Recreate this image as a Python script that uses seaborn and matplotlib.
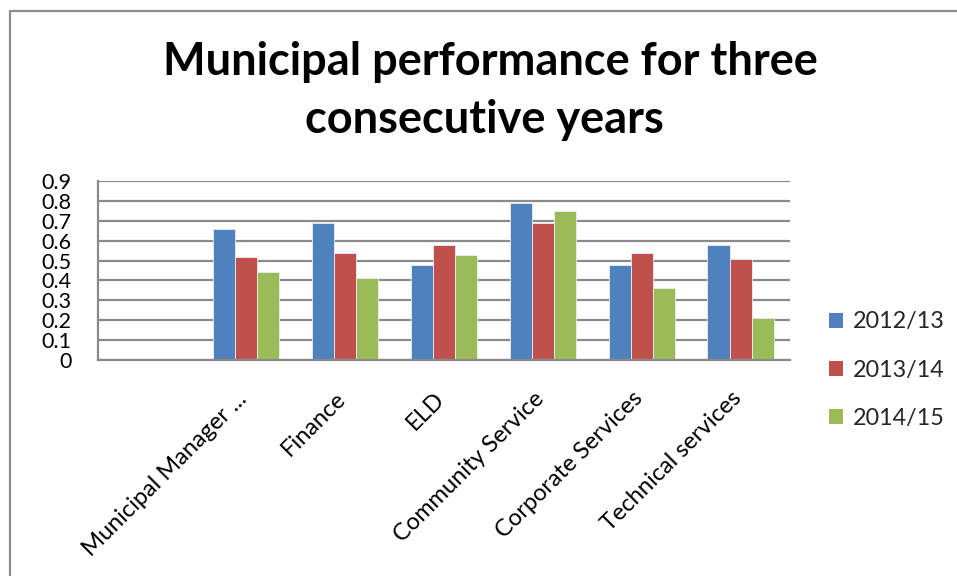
import matplotlib
matplotlib.use("Agg")
import matplotlib.pyplot as plt
import seaborn as sns
import pandas as pd
from matplotlib.lines import Line2D
from matplotlib.patches import Patch
from matplotlib.transforms import ScaledTranslation

# Department scores per financial year
departments = ["Municipal Manager ...", "Finance", "ELD", "Community Service",
               "Corporate Services", "Technical services"]
years = ["2012/13", "2013/14", "2014/15"]
score_2012_13 = [0.66, 0.69, 0.48, 0.79, 0.48, 0.58]
score_2013_14 = [0.52, 0.54, 0.58, 0.69, 0.54, 0.51]
score_2014_15 = [0.44, 0.41, 0.53, 0.75, 0.36, 0.21]
y_ticks = [0, 0.1, 0.2, 0.3, 0.4, 0.5, 0.6, 0.7, 0.8, 0.9]
y_tick_labels = ["0", "0.1", "0.2", "0.3", "0.4", "0.5", "0.6", "0.7", "0.8", "0.9"]
colors = ["#4F81BD", "#C0504D", "#9BBB59"]

rows = []
for year, vals in zip(years, [score_2012_13, score_2013_14, score_2014_15]):
    for dep, v in zip(departments, vals):
        rows.append({"Department": dep, "Year": year, "Score": v})
df = pd.DataFrame(rows)

sns.set_theme(style="white")
plt.rcParams["font.family"] = ["Lato", "DejaVu Sans"]

fig = plt.figure(figsize=(9.57, 5.76), dpi=100)
ax = fig.add_axes([98 / 957, 1 - 360 / 576, (790 - 98) / 957, (360 - 181) / 576])

# leading blank slot on the category axis
order = [""] + departments
sns.barplot(data=df, x="Department", y="Score", hue="Year", order=order,
            hue_order=years, palette=colors, saturation=1, width=0.67, ax=ax,
            edgecolor="#e8eef6", linewidth=0.6, legend=False, errorbar=None)

ax.set_xlim(-0.5, len(order) - 0.5)
ax.set_ylim(0, 0.9)
ax.set_yticks(y_ticks)
ax.set_yticklabels(y_tick_labels)
ax.set_xlabel("")
ax.set_ylabel("")
ax.yaxis.grid(True, color="#8a8a8a", linewidth=1.6)
ax.set_axisbelow(True)
for side in ["top", "right"]:
    ax.spines[side].set_visible(False)
for side in ["left", "bottom"]:
    ax.spines[side].set_color("#8a8a8a")
    ax.spines[side].set_linewidth(1.6)

ax.tick_params(axis="y", length=0, pad=19, labelsize=15.5, labelcolor="black")
ax.tick_params(axis="x", length=0, pad=20, labelsize=17, labelcolor="black")
shift = ScaledTranslation(-10 / 100, 0, fig.dpi_scale_trans)
for lbl in ax.get_xticklabels():
    lbl.set_rotation(45)
    lbl.set_ha("right")
    lbl.set_va("top")
    lbl.set_rotation_mode("anchor")
    lbl.set_transform(lbl.get_transform() + shift)

# Title
fig.text(490 / 957, 1 - 62 / 576, "Municipal performance for three",
         ha="center", va="center", fontsize=32.5, fontweight="bold", color="black")
fig.text(484 / 957, 1 - 120 / 576, "consecutive years",
         ha="center", va="center", fontsize=32.5, fontweight="bold", color="black")

# Legend
handles = [Patch(facecolor=c, edgecolor="none") for c in colors]
fig.legend(handles, years, loc="upper left", bbox_to_anchor=(820 / 957, 1 - 302 / 576),
           frameon=False, fontsize=16.8, labelspacing=1.17, handlelength=0.6,
           handleheight=0.6, handletextpad=0.4, borderaxespad=0)

# Chart frame
frame_color = "#8c8c8c"
fig.add_artist(Line2D([10 / 957, 1], [1 - 11 / 576, 1 - 11 / 576],
                      transform=fig.transFigure, color=frame_color, linewidth=1.6))
fig.add_artist(Line2D([10 / 957, 10 / 957], [0, 1 - 11 / 576],
                      transform=fig.transFigure, color=frame_color, linewidth=1.6))

fig.savefig("out.png", dpi=100)
